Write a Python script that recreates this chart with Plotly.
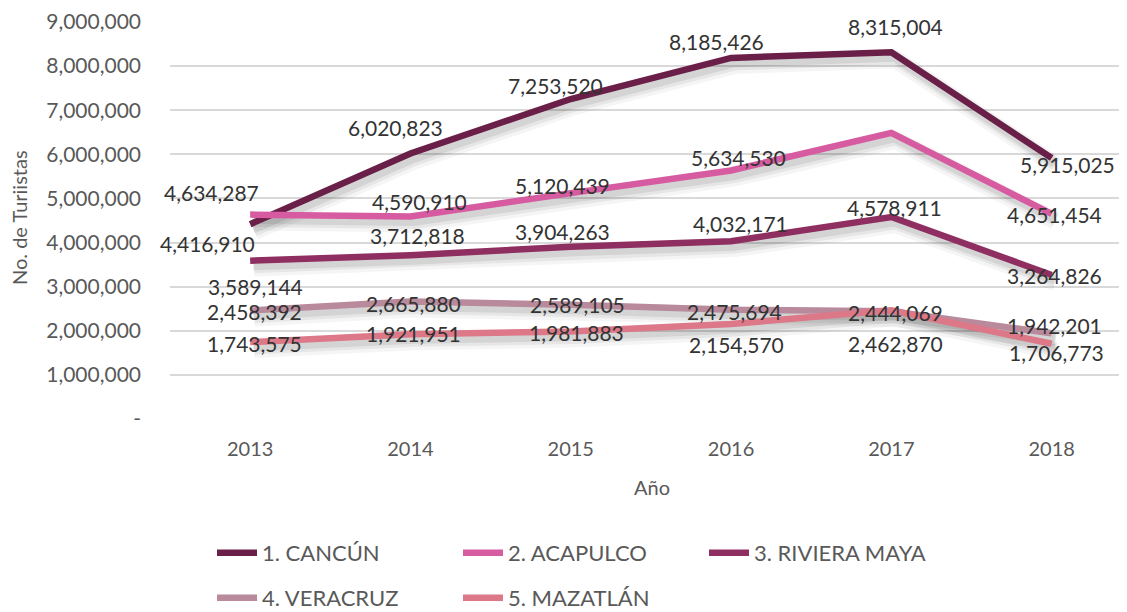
import plotly.graph_objects as go

years = [2013, 2014, 2015, 2016, 2017, 2018]
series_names = ["1. CANCÚN", "2. ACAPULCO", "3. RIVIERA MAYA", "4. VERACRUZ", "5. MAZATLÁN"]
cancun = [4416910, 6020823, 7253520, 8185426, 8315004, 5915025]
acapulco = [4634287, 4590910, 5120439, 5634530, 6485000, 4651454]
riviera_maya = [3589144, 3712818, 3904263, 4032171, 4578911, 3264826]
veracruz = [2458392, 2665880, 2589105, 2475694, 2444069, 1942201]
mazatlan = [1743575, 1921951, 1981883, 2154570, 2462870, 1706773]
# which points carry a data label (Acapulco 2017 has none in the source)
acapulco_labeled = [True, True, True, True, False, True]

y_ticks = [0, 1000000, 2000000, 3000000, 4000000, 5000000, 6000000, 7000000, 8000000, 9000000]
y_ticktext = ["-"] + [f"{v:,}" for v in y_ticks[1:]]

colors = ["#6A1F48", "#D65BA0", "#8E2E61", "#B88A9C", "#DC7888"]
all_series = [cancun, acapulco, riviera_maya, veracruz, mazatlan]

# label offsets in pixels (dx, dy with dy positive = down), style only
label_offsets = [
    [(-43, 19), (-15, -26), (-15, -14), (-15, -16), (4, -26), (16, 6)],
    [(-39, -22), (9, -15), (-8, -8), (7, -13), (0, 0), (3, 1)],
    [(5, 26), (7, -20), (-8, -15), (9, -18), (3, -10), (3, 1)],
    [(4, 1), (3, 2), (7, 0), (3, 2), (4, 1), (3, -8)],
    [(4, 1), (3, -1), (6, 1), (5, 21), (4, 33), (5, 9)],
]

fig = go.Figure()

px_per_unit_y = 397 / 9000000
px_per_year = 957 / 5.97

# soft shadows
for vals in all_series:
    for w, a, dx, dy in [(18, 0.04, 4, 7), (13, 0.06, 4, 6), (9, 0.08, 3, 5)]:
        fig.add_trace(go.Scatter(
            x=[yr + dx / px_per_year for yr in years],
            y=[v - dy / px_per_unit_y for v in vals],
            mode="lines", line=dict(color=f"rgba(0,0,0,{a})", width=w),
            hoverinfo="skip", showlegend=False))

for i, (name, vals, col) in enumerate(zip(series_names, all_series, colors)):
    fig.add_trace(go.Scatter(
        x=years, y=vals, name=name, mode="lines",
        line=dict(color=col, width=6.5),
        legend="legend" if i < 3 else "legend2"))

annotations = []
for si, vals in enumerate(all_series):
    for pi, (yr, v) in enumerate(zip(years, vals)):
        if si == 1 and not acapulco_labeled[pi]:
            continue
        dx, dy = label_offsets[si][pi]
        annotations.append(dict(
            x=yr, y=v, xref="x", yref="y", text=f"{v:,}", showarrow=False,
            xshift=dx, yshift=-dy,
            font=dict(family="Lato", size=21, color="#333333")))

annotations.append(dict(
    x=-(170 - 19) / 957, y=(419 - 218) / 397, xref="paper", yref="paper",
    xanchor="center", yanchor="middle",
    text="No. de Turiistas", textangle=-90, showarrow=False,
    font=dict(family="Lato", size=20, color="#595959")))
annotations.append(dict(
    x=(652 - 170) / 957, y=(419 - 487) / 397, xref="paper", yref="paper",
    xanchor="center", yanchor="middle",
    text="Año", showarrow=False,
    font=dict(family="Lato", size=20, color="#595959")))

legend_font = dict(family="Lato", size=22, color="#595959")
fig.update_layout(
    width=1127, height=612,
    margin=dict(l=162, r=8, t=14, b=201, autoexpand=False),
    plot_bgcolor="white", paper_bgcolor="white",
    font=dict(family="Lato", size=20, color="#595959"),
    annotations=annotations,
    legend=dict(orientation="h", x=(212 - 170) / 957, y=(419 - 553) / 397,
                xanchor="left", yanchor="middle", entrywidth=191, entrywidthmode="pixels",
                font=legend_font, itemwidth=40),
    legend2=dict(orientation="h", x=(212 - 170) / 957, y=(419 - 598) / 397,
                 xanchor="left", yanchor="middle", entrywidth=191, entrywidthmode="pixels",
                 font=legend_font, itemwidth=40),
)

fig.update_xaxes(
    range=[2012.5, 2012.5 + 5.97], tickvals=years, ticktext=[str(y) for y in years],
    showgrid=False, zeroline=False, showline=False, ticks="", automargin=False,
    ticklabelstandoff=16, tickfont=dict(family="Lato", size=20, color="#595959"))
fig.update_yaxes(
    range=[0, 9000000], tickvals=y_ticks, ticktext=y_ticktext, automargin=False,
    showgrid=True, gridcolor="#D9D9D9", gridwidth=2, zeroline=False, showline=False,
    ticks="", ticklabelstandoff=28, tickfont=dict(family="Lato", size=21, color="#595959"))

fig.write_html("out.html")
